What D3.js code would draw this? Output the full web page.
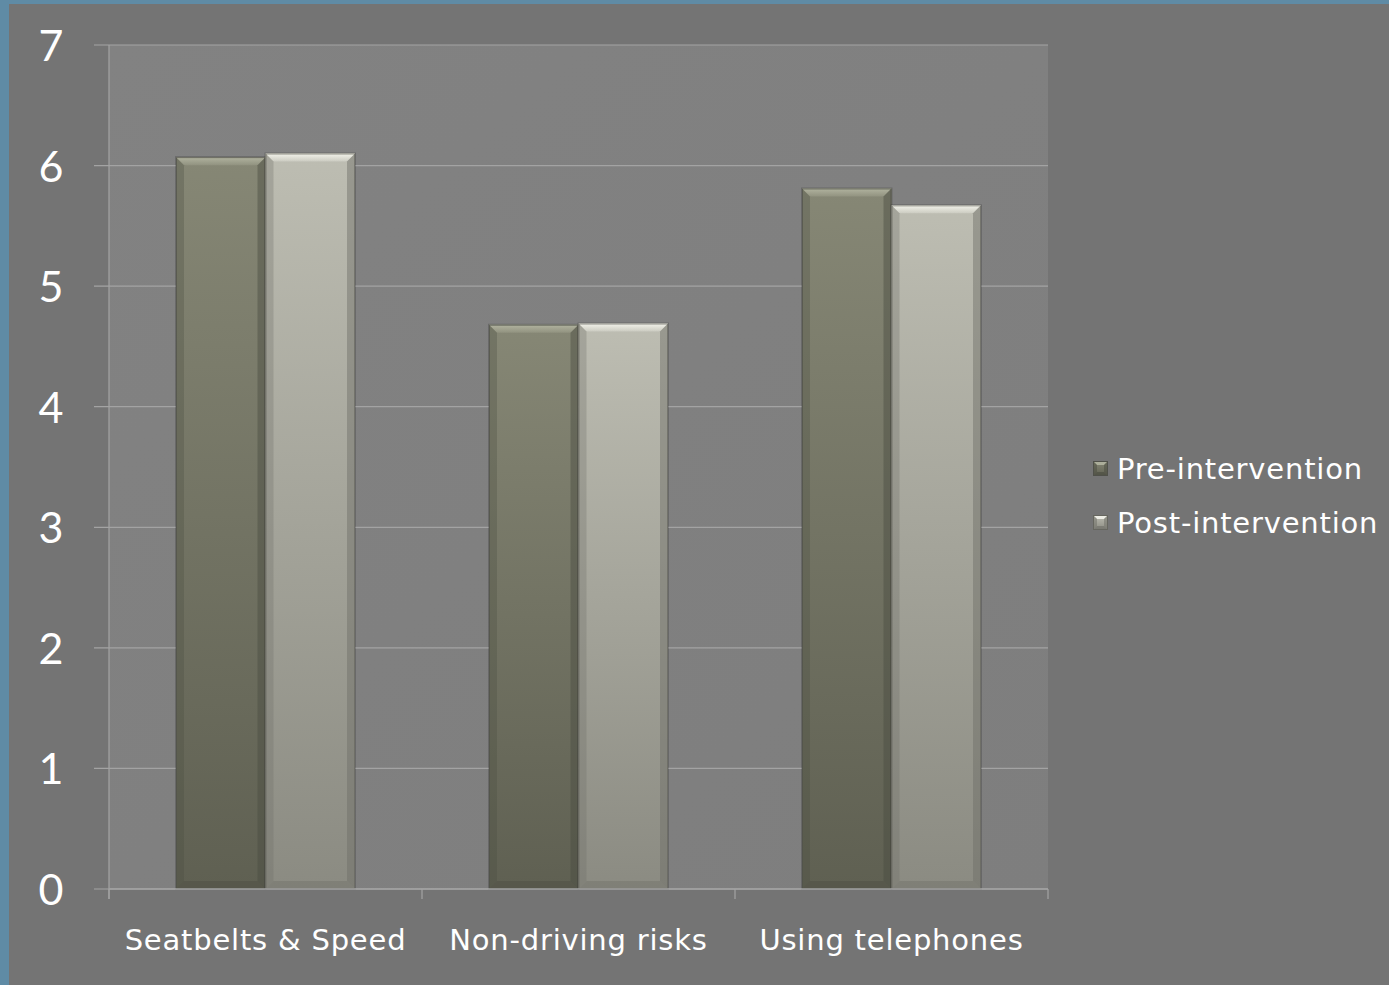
<!DOCTYPE html>
<html>
<head>
<meta charset="utf-8">
<script src="https://cdn.jsdelivr.net/npm/d3@7"></script>
<style>
  html, body { margin: 0; padding: 0; background: #747474; }
  svg { display: block; }
  text { fill: #ffffff; }
  .num { font-family: "Lato", "Open Sans", sans-serif; }
  .lbl { font-family: "DejaVu Sans", "Open Sans", sans-serif; letter-spacing: 0.8px; }
</style>
</head>
<body>
<svg id="chart" width="1389" height="985"></svg>
<script>
// Chart data
const categories = ["Seatbelts & Speed", "Non-driving risks", "Using telephones"];
const seriesNames = ["Pre-intervention", "Post-intervention"];
const preValues = [6.07, 4.68, 5.81];
const postValues = [6.10, 4.69, 5.67];
const yTicks = [0, 1, 2, 3, 4, 5, 6, 7];

const W = 1389, H = 985;
const margin = { left: 109, right: 341, top: 45, bottom: 96 };
const innerW = W - margin.left - margin.right;
const innerH = H - margin.top - margin.bottom;

const svg = d3.select("#chart");
const defs = svg.append("defs");

// Slide frame: blue accent strips on left and top edges
svg.append("rect").attr("x", 0).attr("y", 0).attr("width", W).attr("height", H).attr("fill", "#747474");
svg.append("rect").attr("x", 0).attr("y", 0).attr("width", 9).attr("height", H).attr("fill", "#5f8ba5");
svg.append("rect").attr("x", 0).attr("y", 0).attr("width", W).attr("height", 4).attr("fill", "#5f8ba5");

// Gradients
const plotGrad = defs.append("linearGradient").attr("id", "plotGrad")
  .attr("x1", 0).attr("y1", 0).attr("x2", 1).attr("y2", 1);
plotGrad.append("stop").attr("offset", 0).attr("stop-color", "#828282");
plotGrad.append("stop").attr("offset", 1).attr("stop-color", "#7e7e7e");

const palettes = [
  { top: "#868775", bottom: "#5f6052", light: "#b4b6a2", dark: "#4a4b40", edge: "#50514a" },
  { top: "#bdbdb2", bottom: "#8b8b82", light: "#f6f6ee", dark: "#6d6d66", edge: "#66665f" }
];
palettes.forEach((p, i) => {
  const g = defs.append("linearGradient").attr("id", "barGrad" + i)
    .attr("x1", 0).attr("y1", 0).attr("x2", 0).attr("y2", 1);
  g.append("stop").attr("offset", 0).attr("stop-color", p.top);
  g.append("stop").attr("offset", 1).attr("stop-color", p.bottom);
  // top bevel highlight fades downward
  const t = defs.append("linearGradient").attr("id", "topBevel" + i)
    .attr("x1", 0).attr("y1", 0).attr("x2", 0).attr("y2", 1);
  t.append("stop").attr("offset", 0).attr("stop-color", p.light).attr("stop-opacity", 0.95);
  t.append("stop").attr("offset", 1).attr("stop-color", p.light).attr("stop-opacity", 0.25);
});

const g = svg.append("g").attr("transform", `translate(${margin.left},${margin.top})`);

// Plot area
g.append("rect").attr("width", innerW).attr("height", innerH).attr("fill", "url(#plotGrad)");

// Scales
const x0 = d3.scaleBand().domain(categories).range([0, innerW]).paddingInner(0).paddingOuter(0);
const x1 = d3.scaleBand().domain(seriesNames).range([67, x0.bandwidth() - 67]).padding(0);
const y = d3.scaleLinear().domain([0, 7]).range([innerH, 0]);

// Gridlines
g.append("g").selectAll("line").data(yTicks).join("line")
  .attr("x1", -15).attr("x2", innerW)
  .attr("y1", d => y(d)).attr("y2", d => y(d))
  .attr("stroke", "#a3a3a3").attr("stroke-width", 1.2);

// Y axis line
g.append("line").attr("x1", 0).attr("x2", 0).attr("y1", 0).attr("y2", innerH + 10)
  .attr("stroke", "#a3a3a3").attr("stroke-width", 1.2);

// Y axis labels
const yAxis = d3.axisLeft(y).tickValues(yTicks).tickSize(0).tickPadding(0).tickFormat(d3.format("d"));
const yAx = g.append("g").call(yAxis);
yAx.select(".domain").remove();
yAx.selectAll("text")
  .attr("class", "num")
  .attr("x", -58).attr("dy", "0.36em")
  .attr("text-anchor", "middle")
  .style("font-size", "43px").style("font-weight", 400).attr("fill", "#ffffff");

// Bars with bevel
const data = categories.map((c, i) => ({ cat: c, vals: [preValues[i], postValues[i]] }));
const bev = 8;
data.forEach(d => {
  d.vals.forEach((v, si) => {
    const bx = x0(d.cat) + x1(seriesNames[si]);
    const bw = x1.bandwidth();
    const by = y(v);
    const bh = innerH - by;
    const p = palettes[si];
    const bg = g.append("g");
    // soft shadow
    bg.append("rect").attr("x", bx - 1).attr("y", by - 1).attr("width", bw + 2).attr("height", bh + 2)
      .attr("fill", "#000").attr("opacity", 0.18);
    bg.append("rect").attr("x", bx).attr("y", by).attr("width", bw).attr("height", bh)
      .attr("fill", `url(#barGrad${si})`);
    // top bevel
    bg.append("polygon")
      .attr("points", [[bx, by], [bx + bw, by], [bx + bw - bev, by + bev], [bx + bev, by + bev]].map(q => q.join(",")).join(" "))
      .attr("fill", `url(#topBevel${si})`);
    // left bevel
    bg.append("polygon")
      .attr("points", [[bx, by], [bx + bev, by + bev], [bx + bev, by + bh - bev], [bx, by + bh]].map(q => q.join(",")).join(" "))
      .attr("fill", p.dark).attr("opacity", 0.3);
    // right bevel
    bg.append("polygon")
      .attr("points", [[bx + bw, by], [bx + bw - bev, by + bev], [bx + bw - bev, by + bh - bev], [bx + bw, by + bh]].map(q => q.join(",")).join(" "))
      .attr("fill", p.dark).attr("opacity", 0.45);
    // bottom bevel
    bg.append("polygon")
      .attr("points", [[bx, by + bh], [bx + bev, by + bh - bev], [bx + bw - bev, by + bh - bev], [bx + bw, by + bh]].map(q => q.join(",")).join(" "))
      .attr("fill", p.dark).attr("opacity", 0.4);
    bg.append("rect").attr("x", bx + 0.5).attr("y", by + 0.5).attr("width", bw - 1).attr("height", bh - 1)
      .attr("fill", "none").attr("stroke", p.edge).attr("stroke-width", 1).attr("opacity", 0.7);
  });
});

// X axis
g.append("line").attr("x1", 0).attr("x2", innerW).attr("y1", innerH).attr("y2", innerH)
  .attr("stroke", "#a3a3a3").attr("stroke-width", 1.5);
const tickXs = categories.map(c => x0(c)).concat([innerW]);
g.append("g").selectAll("line").data(tickXs).join("line")
  .attr("x1", d => d).attr("x2", d => d).attr("y1", innerH).attr("y2", innerH + 10)
  .attr("stroke", "#a3a3a3").attr("stroke-width", 1.2);

g.append("g").selectAll("text").data(categories).join("text")
  .attr("class", "lbl")
  .attr("x", d => x0(d) + x0.bandwidth() / 2)
  .attr("y", innerH + 61)
  .attr("text-anchor", "middle")
  .style("font-size", "29px")
  .text(d => d);

// Legend
const legend = svg.append("g").attr("transform", "translate(1093,461)");
seriesNames.forEach((name, i) => {
  const lg = legend.append("g").attr("transform", `translate(0,${i * 54})`);
  const p = palettes[i];
  const s = 15, b = 4;
  lg.append("rect").attr("width", s).attr("height", s).attr("fill", `url(#barGrad${i})`);
  lg.append("polygon").attr("points", `0,0 ${s},0 ${s - b},${b} ${b},${b}`).attr("fill", p.light).attr("opacity", 0.85);
  lg.append("polygon").attr("points", `0,0 ${b},${b} ${b},${s - b} 0,${s}`).attr("fill", p.dark).attr("opacity", 0.5);
  lg.append("polygon").attr("points", `${s},0 ${s - b},${b} ${s - b},${s - b} ${s},${s}`).attr("fill", p.dark).attr("opacity", 0.5);
  lg.append("polygon").attr("points", `0,${s} ${b},${s - b} ${s - b},${s - b} ${s},${s}`).attr("fill", p.dark).attr("opacity", 0.6);
  lg.append("rect").attr("x", 0.5).attr("y", 0.5).attr("width", s - 1).attr("height", s - 1)
    .attr("fill", "none").attr("stroke", p.edge).attr("stroke-width", 1);
  lg.append("text").attr("class", "lbl").attr("x", 24).attr("y", 18)
    .style("font-size", "29px")
    .text(name);
});
</script>
</body>
</html>
